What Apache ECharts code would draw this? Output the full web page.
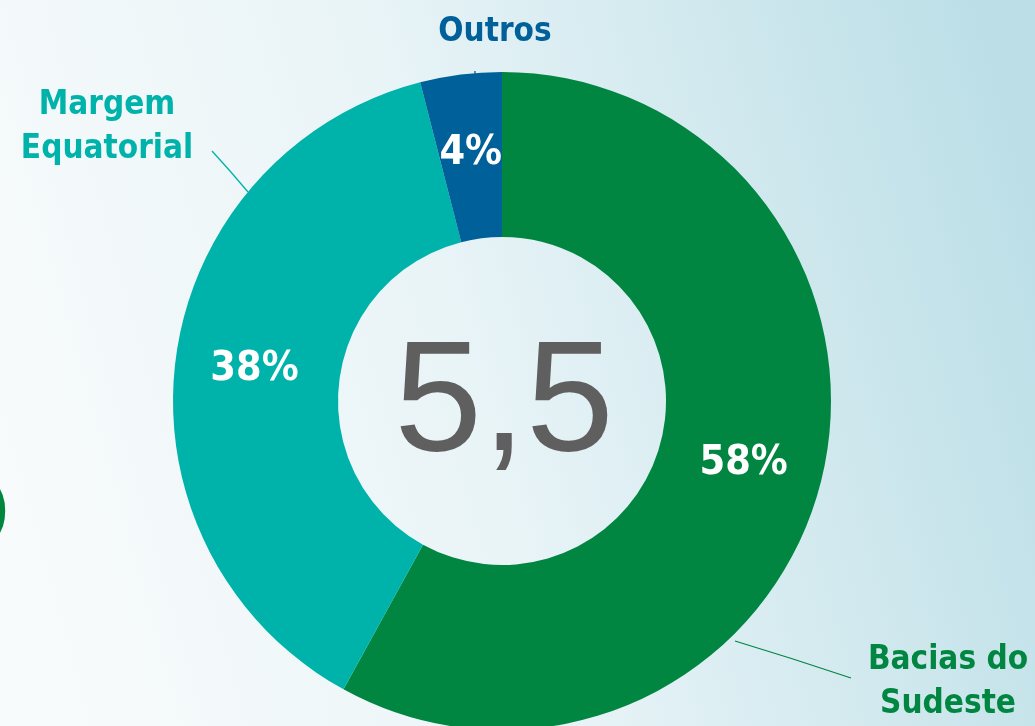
<!DOCTYPE html>
<html><head><meta charset="utf-8">
<script src="https://cdn.jsdelivr.net/npm/echarts@6/dist/echarts.min.js"></script>
<style>html,body{margin:0;padding:0;background:#fff;}#c{width:1035px;height:726px;}</style>
</head><body><div id="c"></div>
<script>
const categories = ['Bacias do Sudeste', 'Margem Equatorial', 'Outros'];
const labelTexts = ['Bacias do\nSudeste', 'Margem\nEquatorial', 'Outros'];
const shares = [58, 38, 4];
const totalLabel = '5,5';
const colors = ['#008641', '#00b3aa', '#00609a'];

const labelFont = '"DejaVu Sans Condensed", "Open Sans", "DejaVu Sans", sans-serif';
const labelPos = [
  {x: 948, y: 682, align: 'center', line: [[735, 641], [793, 659], [851, 678]]},
  {x: 107, y: 127, align: 'center', line: [[248, 192], [230, 171], [212, 151]]},
  {x: 495, y: 32, align: 'center', line: [[475, 78], [475, 75], [475, 71]]}
];

const ringData = categories.map((c, i) => ({
  name: c, value: shares[i], itemStyle: {color: colors[i]}
}));
const outerData = categories.map((c, i) => ({
  name: c, value: shares[i],
  itemStyle: {color: 'rgba(0,0,0,0)'},
  label: {color: colors[i], formatter: labelTexts[i]},
  labelLine: {lineStyle: {color: colors[i], width: 1.3}}
}));

const chart = echarts.init(document.getElementById('c'), null, {renderer: 'canvas'});
chart.setOption({
  animation: false,
  backgroundColor: {
    type: 'linear', x: 0, y: 0.7, x2: 1, y2: 0.3,
    colorStops: [
      {offset: 0, color: '#f8fbfc'},
      {offset: 0.45, color: '#e9f4f7'},
      {offset: 1, color: '#bcdfe7'}
    ]
  },
  graphic: [
    {type: 'text', style: {
      x: 504, y: 406, text: totalLabel, align: 'center', verticalAlign: 'middle',
      fontFamily: '"Liberation Sans", Arial, sans-serif', fontSize: 158, fill: '#5f5f5f'
    }},
    {type: 'text', style: {
      x: 10, y: 513, text: 'o', align: 'right', verticalAlign: 'middle',
      fontFamily: labelFont, fontWeight: 'bold', fontSize: 128, fill: '#00873e'
    }}
  ],
  series: [
    {
      type: 'pie', center: [502, 401], radius: [164, 329],
      startAngle: 90, clockwise: true, silent: true,
      data: ringData,
      label: {
        position: 'inside', formatter: '{d}%', color: '#ffffff',
        fontFamily: labelFont, fontWeight: 'bold', fontSize: 41
      },
      labelLine: {show: false}
    },
    {
      type: 'pie', center: [502, 401], radius: [164, 329],
      startAngle: 90, clockwise: true, silent: true, z: 3,
      data: outerData,
      label: {
        show: true, position: 'outside', overflow: 'none',
        fontFamily: labelFont, fontWeight: 'bold', fontSize: 33, lineHeight: 44
      },
      labelLine: {show: true},
      labelLayout: function (p) {
        const lp = labelPos[p.dataIndex];
        return {x: lp.x, y: lp.y, align: lp.align, verticalAlign: 'middle', labelLinePoints: lp.line};
      }
    }
  ]
});
</script>
</body></html>
